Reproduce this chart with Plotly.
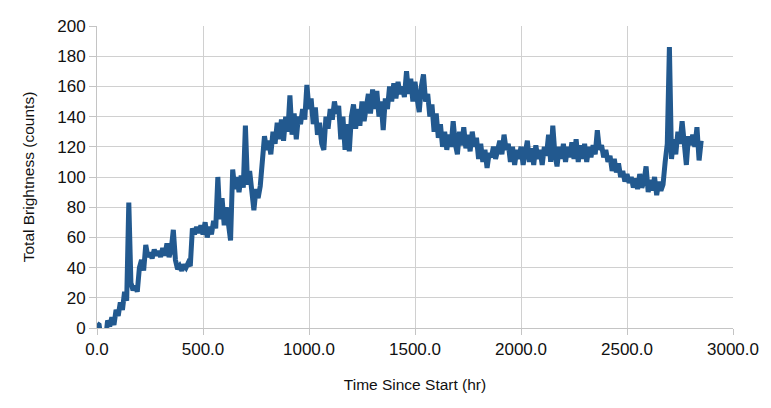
import plotly.graph_objects as go

# Time since start (hr), sampled every 10 hr
hours = list(range(0, 2860, 10))

# Total brightness (counts)
brightness = [
    3, 2, -8, -8, -8, 5, 1, 7, 2, 12,            # 0-90
    8, 17, 12, 24, 18, 83, 30, 25, 28, 24,       # 100-190
    40, 45, 38, 55, 47, 50, 46, 52, 48, 51,      # 200-290
    47, 53, 48, 56, 47, 52, 65, 45, 39, 41,      # 300-390
    38, 42, 40, 43, 41, 66, 62, 67, 63, 68,      # 400-490
    62, 70, 60, 67, 62, 71, 66, 100, 72, 86,     # 500-590
    68, 80, 70, 58, 105, 92, 100, 90, 101, 93,   # 600-690
    134, 95, 104, 90, 78, 92, 86, 94, 112, 127,  # 700-790
    118, 124, 115, 130, 122, 136, 125, 138, 124, 140,  # 800-890
    130, 154, 128, 142, 125, 140, 135, 145, 138, 161,  # 900-990
    145, 152, 135, 146, 128, 136, 122, 118, 140, 132,  # 1000-1090
    145, 138, 150, 142, 147, 125, 140, 118, 135, 117,  # 1100-1190
    140, 148, 132, 145, 134, 150, 137, 146, 155, 142,  # 1200-1290
    158, 145, 157, 140, 150, 131, 152, 145, 160, 150,  # 1300-1390
    162, 152, 163, 155, 160, 153, 170, 155, 165, 150,  # 1400-1490
    163, 152, 143, 160, 168, 150, 155, 140, 148, 130,  # 1500-1590
    142, 126, 135, 120, 130, 118, 128, 120, 137, 122,  # 1600-1690
    115, 130, 121, 133, 119, 128, 117, 130, 120, 126,  # 1700-1790
    112, 122, 110, 118, 106, 116, 113, 120, 112, 118,  # 1800-1890
    124, 115, 128, 118, 122, 110, 120, 108, 118, 112,  # 1900-1990
    120, 108, 117, 124, 110, 119, 108, 121, 112, 118,  # 2000-2090
    108, 120, 114, 128, 110, 134, 115, 107, 120, 112,  # 2100-2190
    122, 110, 120, 113, 123, 112, 125, 110, 121, 112,  # 2200-2290
    122, 110, 120, 113, 121, 115, 131, 118, 121, 113,  # 2300-2390
    118, 110, 114, 104, 112, 103, 109, 100, 104, 97,   # 2400-2490
    102, 96, 100, 93, 99, 92, 102, 93, 97, 107,        # 2500-2590
    90, 98, 91, 100, 88, 97, 91, 95, 110, 122,         # 2600-2690
    186, 112, 125, 115, 130, 122, 137, 118, 108, 127,  # 2700-2790
    121, 128, 120, 133, 111, 124,                      # 2800-2850
]

x_ticks = [0, 500, 1000, 1500, 2000, 2500, 3000]
x_tick_labels = ["0.0", "500.0", "1000.0", "1500.0", "2000.0", "2500.0", "3000.0"]
y_ticks = list(range(0, 201, 20))

fig = go.Figure(
    go.Scatter(
        x=hours,
        y=brightness,
        mode="lines",
        line=dict(color="#22598f", width=5),
        showlegend=False,
    )
)

font_family = "Liberation Sans, Arial, sans-serif"
# the page body adds an 8 px offset, so the figure is 763x400
fig.update_layout(
    width=763,
    height=400,
    margin=dict(l=89, r=38, t=18, b=80),
    paper_bgcolor="white",
    plot_bgcolor="white",
    font=dict(family=font_family, color="#111111"),
)
fig.update_xaxes(
    range=[0, 3000],
    tickvals=x_ticks,
    ticktext=x_tick_labels,
    tickfont=dict(size=17),
    showgrid=True,
    gridcolor="#d0d0d0",
    gridwidth=1,
    showline=True,
    linecolor="#c4c4c4",
    ticks="outside",
    ticklen=6,
    tickcolor="#c4c4c4",
    zeroline=False,
    automargin=False,
    title=dict(text="Time Since Start (hr)", font=dict(size=15.5), standoff=20),
)
fig.update_yaxes(
    range=[0, 200],
    tickvals=y_ticks,
    tickfont=dict(size=17),
    showgrid=True,
    gridcolor="#d0d0d0",
    gridwidth=1,
    showline=True,
    linecolor="#c4c4c4",
    ticks="outside",
    ticklen=7,
    tickcolor="#c4c4c4",
    zeroline=False,
    automargin=False,
    title=dict(text="Total Brightness (counts)", font=dict(size=15.5), standoff=18),
)

fig.write_html("out.html")
